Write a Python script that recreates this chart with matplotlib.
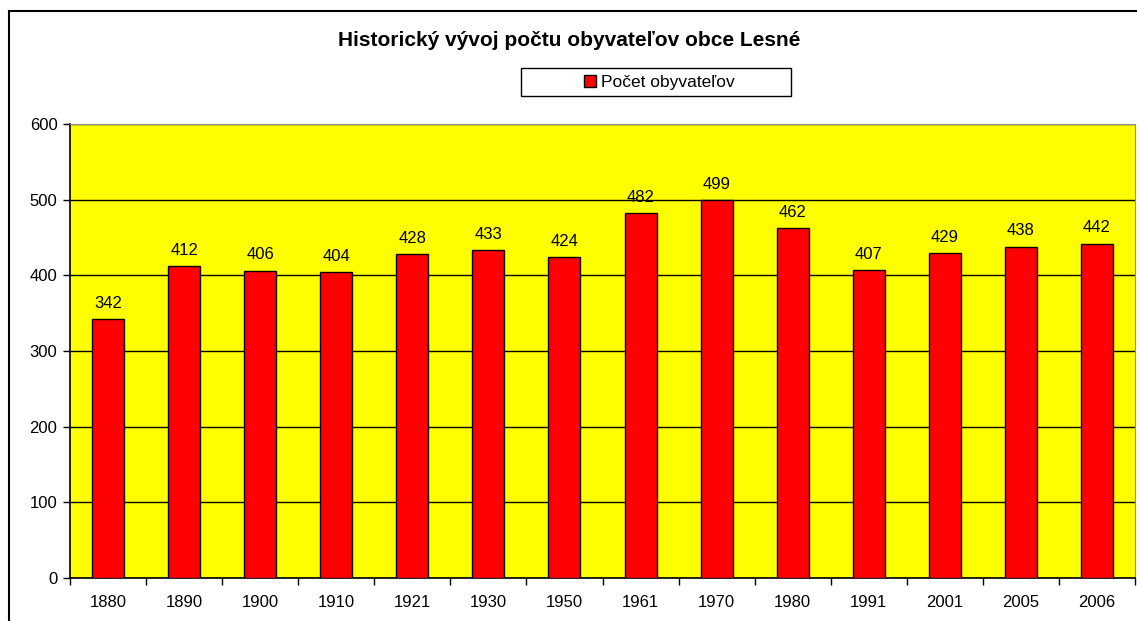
import numpy as np
import matplotlib.pyplot as plt
from matplotlib.lines import Line2D
from matplotlib.patches import Rectangle

years = ['1880', '1890', '1900', '1910', '1921', '1930', '1950',
         '1961', '1970', '1980', '1991', '2001', '2005', '2006']
population = [342, 412, 406, 404, 428, 433, 424, 482, 499, 462, 407, 429, 438, 442]
y_ticks = [0, 100, 200, 300, 400, 500, 600]

plt.rcParams['font.family'] = ['Liberation Sans', 'DejaVu Sans']

W, H = 1137, 621
fig = plt.figure(figsize=(W / 100, H / 100), dpi=100)
ax = fig.add_axes([70 / W, 1 - 578 / H, (1135 - 70) / W, (578 - 124) / H])
ax.set_facecolor('#ffff00')

x = np.arange(len(years))
ax.bar(x, population, width=0.42, color='#ff0000', edgecolor='black',
       linewidth=1, zorder=3)

# value labels above bars
for xi, v in zip(x, population):
    ax.annotate(str(v), (xi, v), xytext=(0, 6), textcoords='offset points',
                ha='center', va='bottom', fontsize=12, zorder=4)

ax.set_xlim(-0.5, len(years) - 0.5)
ax.set_ylim(0, 600)
ax.set_yticks(y_ticks)
ax.set_yticklabels([str(t) for t in y_ticks], fontsize=12)
ax.grid(axis='y', color='black', linewidth=1, zorder=1)

# category labels centered, ticks at category boundaries
ax.set_xticks(x)
ax.set_xticklabels(years, fontsize=12)
ax.tick_params(axis='x', which='major', length=0, pad=12)
ax.set_xticks(np.arange(-0.5, len(years)), minor=True)
ax.tick_params(axis='x', which='minor', length=5, width=1, direction='out')
ax.tick_params(axis='y', length=5, width=1, direction='out', pad=4)

for side in ['top', 'right']:
    ax.spines[side].set_color('#909090')
for side in ['left', 'bottom']:
    ax.spines[side].set_color('black')
    ax.spines[side].set_linewidth(1.2)

fig.text(569 / W, 1 - 41 / H, 'Historický vývoj počtu obyvateľov obce Lesné',
         ha='center', va='center', fontsize=15, fontweight='bold')

# legend box
fig.add_artist(Rectangle((521 / W, 1 - 96 / H), (791 - 521) / W, 28 / H,
                         transform=fig.transFigure, facecolor='white',
                         edgecolor='black', linewidth=1))
leg = fig.legend(handles=[Line2D([], [], marker='s', linestyle='none', markersize=8,
                                 markerfacecolor='#ff0000', markeredgecolor='black')],
                 labels=['Počet obyvateľov'], loc='center',
                 bbox_to_anchor=(658 / W, 1 - 82 / H), fontsize=12.5, frameon=False,
                 handletextpad=0.1, borderpad=0.2, handlelength=1.0)

# outer chart border (left and top visible)
fig.add_artist(Line2D([9 / W, 9 / W], [0, 1 - 11 / H], color='black', linewidth=1.5,
                      transform=fig.transFigure))
fig.add_artist(Line2D([9 / W, 1], [1 - 11 / H, 1 - 11 / H], color='black', linewidth=1.5,
                      transform=fig.transFigure))

fig.savefig('out.png', dpi=100)
